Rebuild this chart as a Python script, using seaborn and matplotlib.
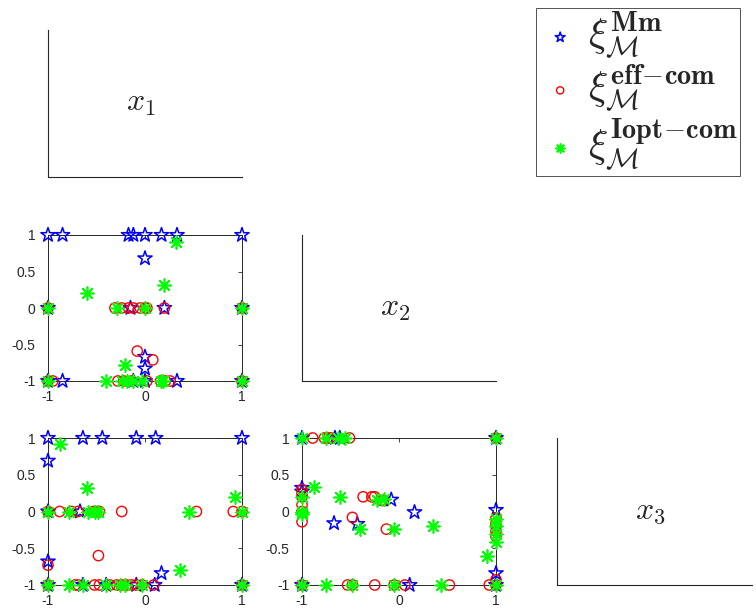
import matplotlib
matplotlib.use("Agg")
import matplotlib.pyplot as plt
import seaborn as sns

# panel (2,1): x1 against x2
p21_mm_x = [-1, -0.85, -0.17, -0.12, 0.0, 0.17, 0.33, 1, 0.0, -0.15, 0.2, -1, 1, 0.0, 0.0, -1, -0.85, -0.12, 0.0, 0.33, 1]
p21_mm_y = [1, 1, 1, 1, 1, 1, 1, 1, 0.68, 0, 0, 0, 0, -0.67, -0.83, -1, -1, -1, -1, -1, -1]
p21_eff_x = [-1, -0.31, -0.24, -0.17, -0.12, -0.05, 0.0, 0.02, 0.2, 1, -0.08, 0.08,
             -1, -0.95, -0.28, -0.22, -0.14, 0.02, 0.16, 0.21, 0.26, 1]
p21_eff_y = [0, 0, 0, 0, 0, 0, 0, 0, 0, 0, -0.59, -0.71,
             -1, -1, -1, -1, -1, -1, -1, -1, -1, -1]
p21_iopt_x = [0.32, -0.6, 0.2, -1, -0.29, 0.0, 1, -0.21, -1, -0.4, -0.24, -0.19, -0.12, -0.03, 0.16, 0.19, 1]
p21_iopt_y = [0.91, 0.2, 0.32, 0, 0, 0, 0, -0.78, -1, -1, -1, -1, -1, -1, -1, -1, -1]

# panel (3,1): x1 against x3
p31_mm_x = [-1, -0.64, -0.44, -0.09, 0.11, 1, -1, -1, -1, -0.67, 0.17, -1, -0.64, -0.4, -0.09, 0.1, 1]
p31_mm_y = [1, 1, 1, 1, 1, 1, 0.69, -0.68, 0, 0, -0.84, -1, -1, -1, -1, -1, -1]
p31_eff_x = [-1, -0.88, -0.76, -0.69, -0.53, -0.5, -0.47, -0.24, 0.53, 0.91, 1, -0.48, -1,
             -1, -0.72, -0.69, -0.52, -0.47, -0.36, -0.29, -0.24, -0.19, -0.14, -0.09, -0.03, 0.09, 1]
p31_eff_y = [0, 0, 0, 0, 0, 0, 0, 0, 0, 0, 0, -0.6, -0.73,
             -1, -1, -1, -1, -1, -1, -1, -1, -1, -1, -1, -1, -1, -1]
p31_iopt_x = [-0.88, -0.6, -1, -0.78, -0.59, -0.52, -0.48, 0.45, 1, 0.93, 0.36,
              -1, -0.78, -0.64, -0.4, -0.26, -0.21, -0.03, 1]
p31_iopt_y = [0.92, 0.32, 0, 0, 0, 0, 0, 0, 0, 0.2, -0.8,
              -1, -1, -1, -1, -1, -1, -1, -1]

# panel (3,2): x2 against x3
p32_mm_x = [-1, -0.66, -0.61, 1, -1, -1, -0.67, -0.43, -0.08, 0.16, 1, 1, -1, 0.11, 1]
p32_mm_y = [1, 1, 1, 1, 0.32, 0.27, -0.16, -0.17, 0.16, -0.01, 0.02, -0.84, -1, -1, -1]
p32_eff_x = [-0.89, -0.77, -0.73, -0.7, -0.51, 1, -1, -1, -1, -1, -1, -1, -0.48,
             -0.37, -0.28, -0.25, -0.18, -0.16, -0.13, 1, 1, 1, 1, 1, 1,
             -1, -0.53, -0.48, -0.25, -0.05, 0.06, 0.52, 0.93, 1]
p32_eff_y = [1, 1, 1, 1, 1, 1, 0.3, 0.25, 0.2, 0.09, 0.0, -0.14, -0.08,
             0.2, 0.2, 0.2, 0.15, 0.15, -0.24, -0.09, -0.16, -0.2, -0.27, -0.34, -0.93,
             -1, -1, -1, -1, -1, -1, -1, -1, -1]
p32_iopt_x = [-1, -0.75, -0.63, -0.56, 1, -1, -1, -1, -0.88, -0.61, -0.15, -0.23, -0.4,
              -0.05, 0.35, 1, 1, 1, 1, 0.91, -1, -0.75, -0.48, -0.05, 0.43, 1]
p32_iopt_y = [1, 1, 1, 1, 1, 0.2, -0.01, -0.04, 0.33, 0.2, 0.17, 0.15, -0.24,
              -0.24, -0.2, -0.1, -0.2, -0.3, -0.41, -0.61, -1, -1, -1, -1, -1, -1]

var_labels = [r'$x_1$', r'$x_2$', r'$x_3$']
series_labels = [r'$\xi_{\mathcal{M}}^{\mathbf{Mm}}$',
                 r'$\xi_{\mathcal{M}}^{\mathbf{eff}\!-\!\mathbf{com}}$',
                 r'$\xi_{\mathcal{M}}^{\mathbf{Iopt}\!-\!\mathbf{com}}$']
x_ticks = [-1, 0, 1]
y_ticks = [-1, -0.5, 0, 0.5, 1]

sns.set_style('white')
plt.rcParams['font.family'] = ['Liberation Sans', 'DejaVu Sans']
plt.rcParams['mathtext.fontset'] = 'cm'

AX_COLOR = '#262626'
W, H = 756, 609


def px_axes(fig, x0, y0, x1, y1):
    return fig.add_axes([x0 / W, 1 - y1 / H, (x1 - x0) / W, (y1 - y0) / H])


def draw_scatter(ax, mm, eff, iopt):
    sns.scatterplot(x=mm[0], y=mm[1], ax=ax, marker='*', s=115, color='blue',
                    facecolor='none', edgecolor='blue', linewidth=1.1,
                    clip_on=False, legend=False, label=series_labels[0], zorder=3)
    sns.scatterplot(x=eff[0], y=eff[1], ax=ax, marker='o', s=55, color='red',
                    facecolor='none', edgecolor='red', linewidth=1.0,
                    clip_on=False, legend=False, label=series_labels[1], zorder=4)
    # asterisk is an unfilled marker, so only its colour is given
    sns.scatterplot(x=iopt[0], y=iopt[1], ax=ax, marker=(8, 2, 0), s=85, color='#00ff00',
                    linewidth=1.2, clip_on=False, legend=False,
                    label=series_labels[2], zorder=5)
    ax.set_xlim(-1, 1)
    ax.set_ylim(-1, 1)
    ax.set_xticks(x_ticks)
    ax.set_xticklabels(['-1', '0', '1'])
    ax.set_yticks(y_ticks)
    ax.set_yticklabels(['-1', '-0.5', '0', '0.5', '1'])
    ax.set_xlabel('')
    ax.set_ylabel('')
    ax.tick_params(direction='in', length=3, width=0.6, top=True, right=True,
                   labelsize=10, colors=AX_COLOR)
    ax.tick_params(axis='x', pad=6.5)
    ax.tick_params(axis='y', pad=9)
    for sp in ax.spines.values():
        sp.set_visible(True)
        sp.set_color(AX_COLOR)
        sp.set_linewidth(0.7)


def draw_diag(ax, label):
    ax.set_xticks([])
    ax.set_yticks([])
    ax.spines['top'].set_visible(False)
    ax.spines['right'].set_visible(False)
    for side in ['left', 'bottom']:
        ax.spines[side].set_color(AX_COLOR)
        ax.spines[side].set_linewidth(0.8)
    ax.text(0.48, 0.5, label, transform=ax.transAxes, ha='center', va='center', fontsize=23)


fig = plt.figure(figsize=(W / 100, H / 100), dpi=100)

cols = [(48, 242), (302, 496), (557, 752)]
rows = [(30, 177), (235, 381), (438, 585)]

for i in range(3):
    draw_diag(px_axes(fig, cols[i][0], rows[i][0], cols[i][1], rows[i][1]), var_labels[i])

ax21 = px_axes(fig, cols[0][0], rows[1][0], cols[0][1], rows[1][1])
draw_scatter(ax21, (p21_mm_x, p21_mm_y), (p21_eff_x, p21_eff_y), (p21_iopt_x, p21_iopt_y))
ax31 = px_axes(fig, cols[0][0], rows[2][0], cols[0][1], rows[2][1])
draw_scatter(ax31, (p31_mm_x, p31_mm_y), (p31_eff_x, p31_eff_y), (p31_iopt_x, p31_iopt_y))
ax32 = px_axes(fig, cols[1][0], rows[2][0], cols[1][1], rows[2][1])
draw_scatter(ax32, (p32_mm_x, p32_mm_y), (p32_eff_x, p32_eff_y), (p32_iopt_x, p32_iopt_y))

handles, labels = ax21.get_legend_handles_labels()
leg = fig.legend(handles, labels, loc='upper left', bbox_to_anchor=(536 / W, 1 - 8 / H),
                 frameon=True, fancybox=False, edgecolor=AX_COLOR, fontsize=29,
                 borderaxespad=0, markerscale=0.7, handlelength=1.1,
                 handletextpad=0.15, labelspacing=0.0, borderpad=0.05)
leg.get_frame().set_linewidth(0.7)

plt.savefig('out.png', dpi=100)
plt.close()
